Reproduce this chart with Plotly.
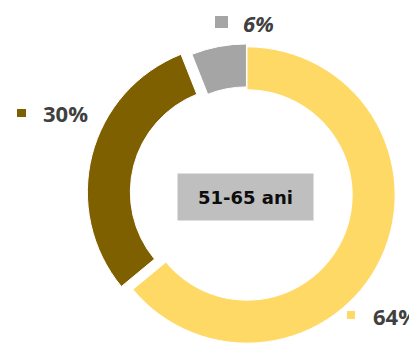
import plotly.graph_objects as go

# ---- data ----
categories = ["64%", "30%", "6%"]
values = [64, 30, 6]
label_texts = ["64%", "30%", "6%"]
center_label = "51-65 ani"

colors = ["#FFD966", "#7F6000", "#A5A5A5"]
pulls = [0, 0.08, 0.02]

OFF = 8  # page body margin
W, H = 409, 352


def px(x):
    return (x - OFF) / W


def py(y):
    return 1 - (y - OFF) / H


fig = go.Figure()
fig.add_trace(go.Pie(
    labels=categories,
    values=values,
    sort=False,
    direction="clockwise",
    rotation=0,
    hole=0.71,
    pull=pulls,
    marker=dict(colors=colors, line=dict(color="white", width=1)),
    textinfo="none",
    hoverinfo="skip",
    showlegend=False,
    domain=dict(x=[px(87), px(407)], y=[py(355), py(35)]),
))

# label positions (text left edge x, center y) and key squares
label_pos = [(371, 316), (41, 113), (241, 23)]
square_pos = [(347, 311, 355, 319), (17, 109, 26, 117), (215, 16, 228, 28)]
italic = [False, False, True]

annotations = []
shapes = []
for txt, (tx, ty), sq, col, it in zip(label_texts, label_pos, square_pos, colors, italic):
    t = f"<b><i>{txt}</i></b>" if it else f"<b>{txt}</b>"
    annotations.append(dict(
        x=px(tx), y=py(ty), xref="paper", yref="paper",
        xanchor="left", yanchor="middle", showarrow=False,
        text=t, font=dict(family="Open Sans", size=22, color="#404040"),
    ))
    shapes.append(dict(
        type="rect", xref="paper", yref="paper",
        x0=px(sq[0]), x1=px(sq[2]), y0=py(sq[3]), y1=py(sq[1]),
        fillcolor=col, line=dict(width=0),
    ))

annotations.append(dict(
    x=px(245.5), y=py(197), xref="paper", yref="paper",
    xanchor="center", yanchor="middle", showarrow=False,
    text=f"<b>{center_label}</b>",
    font=dict(family="DejaVu Sans", size=18, color="#0D0D0D"),
    bgcolor="#BFBFBF", width=135, height=46, borderpad=0,
))

fig.update_layout(
    width=W, height=H,
    margin=dict(l=0, r=0, t=0, b=0),
    paper_bgcolor="white",
    plot_bgcolor="white",
    annotations=annotations,
    shapes=shapes,
)

fig.write_html("out.html")
